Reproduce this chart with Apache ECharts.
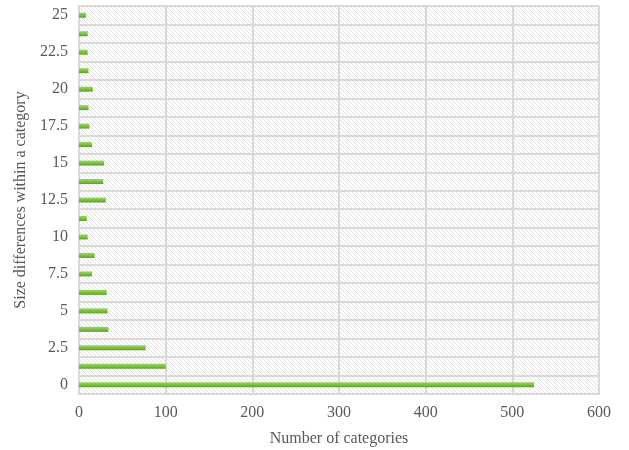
<!DOCTYPE html>
<html><head><meta charset="utf-8">
<script src="https://cdn.jsdelivr.net/npm/echarts@6/dist/echarts.min.js"></script>
<style>html,body{margin:0;padding:0;background:#fff}#c{width:629px;height:450px}</style>
</head><body><div id="c"></div>
<script>
const categories = ['0','1.25','2.5','3.75','5','6.25','7.5','8.75','10','11.25','12.5','13.75','15','16.25','17.5','18.75','20','21.25','22.5','23.75','25'];
const values = [525,100,77,34,33,32,15,18,10,9,31,28,29,15,12,11,16,11,10,10,8];
const xTicks = [0,100,200,300,400,500,600];

const pc = document.createElement('canvas');
pc.width = 4; pc.height = 4;
const g = pc.getContext('2d');
g.fillStyle = '#ffffff'; g.fillRect(0,0,4,4);
g.strokeStyle = '#e2e2e2'; g.lineWidth = 1;
g.beginPath();
g.moveTo(0,0); g.lineTo(4,4);
g.moveTo(-2,2); g.lineTo(2,6);
g.moveTo(2,-2); g.lineTo(6,2);
g.stroke();

const font = 'Liberation Serif';
const chart = echarts.init(document.getElementById('c'));
chart.setOption({
  animation: false,
  grid: {left: 79, right: 30, top: 6, bottom: 56, outerBoundsMode: 'none', containLabel: false, show: true, backgroundColor: {image: pc, repeat: 'repeat'}, borderWidth: 0},
  xAxis: {
    type: 'value', min: 0, max: 600, interval: 100,
    name: 'Number of categories', nameLocation: 'middle', nameGap: 37,
    nameTextStyle: {fontFamily: font, fontSize: 16, color: '#595959'},
    axisLine: {show: true, lineStyle: {color: '#d9d9d9', width: 2}},
    axisTick: {show: false},
    axisLabel: {fontFamily: font, fontSize: 16, color: '#595959', margin: 11,
      formatter: v => xTicks.includes(v) ? String(v) : ''},
    splitLine: {show: true, lineStyle: {color: '#d9d9d9', width: 2}}
  },
  yAxis: {
    type: 'category', data: categories,
    name: 'Size differences within a category', nameLocation: 'middle', nameGap: 47,
    nameTextStyle: {fontFamily: font, fontSize: 16, color: '#595959'},
    axisLine: {show: true, lineStyle: {color: '#d9d9d9', width: 2}},
    axisTick: {show: false},
    axisLabel: {interval: 1, fontFamily: font, fontSize: 16, color: '#595959', margin: 11},
    splitLine: {show: true, interval: 0, lineStyle: {color: '#d9d9d9', width: 2}}
  },
  series: [{
    type: 'bar', data: values, barWidth: 5,
    itemStyle: {color: new echarts.graphic.LinearGradient(0,0,0,1,[{offset:0,color:'#9ad85a'},{offset:0.5,color:'#7cc240'},{offset:1,color:'#5e9a30'}])}
  }]
});
</script></body></html>
